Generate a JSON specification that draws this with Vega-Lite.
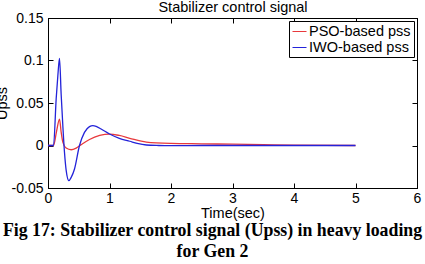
{
  "$schema": "https://vega.github.io/schema/vega-lite/v6.json",
  "width": 369,
  "height": 170,
  "autosize": "none",
  "padding": {"left": 48, "top": 18, "right": 8, "bottom": 76},
  "background": "white",
  "config": {
    "view": {"stroke": "black", "strokeWidth": 1},
    "font": "Liberation Sans",
    "axis": {
      "grid": false,
      "domainColor": "black",
      "tickColor": "black",
      "labelColor": "black",
      "labelFont": "Liberation Sans",
      "labelFontSize": 14,
      "titleFont": "Liberation Sans",
      "titleFontSize": 14.5,
      "titleFontWeight": "normal",
      "titleColor": "black",
      "tickSize": -5,
      "domainWidth": 1
    }
  },
  "title": {
    "text": ["Fig 17: Stabilizer control signal (Upss) in heavy loading", "for Gen 2"],
    "orient": "bottom",
    "anchor": "middle",
    "frame": "bounds",
    "font": "Liberation Serif",
    "fontSize": 17.8,
    "fontWeight": "bold",
    "color": "black",
    "lineHeight": 21,
    "offset": 2,
    "dx": 5
  },
  "data": {
    "values": [
      {"t": 0, "u": 0, "series": "PSO-based pss"},
      {"t": 0.09, "u": 0, "series": "PSO-based pss"},
      {"t": 0.14, "u": 0.017, "series": "PSO-based pss"},
      {"t": 0.187, "u": 0.031, "series": "PSO-based pss"},
      {"t": 0.214, "u": 0.0157, "series": "PSO-based pss"},
      {"t": 0.241, "u": 0.004, "series": "PSO-based pss"},
      {"t": 0.295, "u": -0.003, "series": "PSO-based pss"},
      {"t": 0.377, "u": -0.005, "series": "PSO-based pss"},
      {"t": 0.458, "u": -0.003, "series": "PSO-based pss"},
      {"t": 0.539, "u": 0.001, "series": "PSO-based pss"},
      {"t": 0.675, "u": 0.0071, "series": "PSO-based pss"},
      {"t": 0.84, "u": 0.0118, "series": "PSO-based pss"},
      {"t": 1.0, "u": 0.0135, "series": "PSO-based pss"},
      {"t": 1.16, "u": 0.0118, "series": "PSO-based pss"},
      {"t": 1.33, "u": 0.0085, "series": "PSO-based pss"},
      {"t": 1.6, "u": 0.004, "series": "PSO-based pss"},
      {"t": 2.0, "u": 0.0025, "series": "PSO-based pss"},
      {"t": 2.5, "u": 0.002, "series": "PSO-based pss"},
      {"t": 3.0, "u": 0.0015, "series": "PSO-based pss"},
      {"t": 3.5, "u": 0.001, "series": "PSO-based pss"},
      {"t": 4.0, "u": 0.0005, "series": "PSO-based pss"},
      {"t": 5.0, "u": 0, "series": "PSO-based pss"},
      {"t": 0, "u": 0, "series": "IWO-based pss"},
      {"t": 0.09, "u": 0, "series": "IWO-based pss"},
      {"t": 0.133, "u": 0.055, "series": "IWO-based pss"},
      {"t": 0.16, "u": 0.082, "series": "IWO-based pss"},
      {"t": 0.187, "u": 0.1025, "series": "IWO-based pss"},
      {"t": 0.214, "u": 0.06, "series": "IWO-based pss"},
      {"t": 0.241, "u": 0.0235, "series": "IWO-based pss"},
      {"t": 0.268, "u": -0.008, "series": "IWO-based pss"},
      {"t": 0.295, "u": -0.029, "series": "IWO-based pss"},
      {"t": 0.339, "u": -0.0414, "series": "IWO-based pss"},
      {"t": 0.377, "u": -0.0375, "series": "IWO-based pss"},
      {"t": 0.431, "u": -0.0276, "series": "IWO-based pss"},
      {"t": 0.512, "u": 0, "series": "IWO-based pss"},
      {"t": 0.593, "u": 0.0155, "series": "IWO-based pss"},
      {"t": 0.675, "u": 0.0222, "series": "IWO-based pss"},
      {"t": 0.729, "u": 0.0233, "series": "IWO-based pss"},
      {"t": 0.783, "u": 0.0225, "series": "IWO-based pss"},
      {"t": 0.864, "u": 0.0194, "series": "IWO-based pss"},
      {"t": 1.0, "u": 0.0135, "series": "IWO-based pss"},
      {"t": 1.16, "u": 0.0085, "series": "IWO-based pss"},
      {"t": 1.33, "u": 0.005, "series": "IWO-based pss"},
      {"t": 1.45, "u": 0.0025, "series": "IWO-based pss"},
      {"t": 1.6, "u": 0.0006, "series": "IWO-based pss"},
      {"t": 1.8, "u": 0, "series": "IWO-based pss"},
      {"t": 2.0, "u": -0.0002, "series": "IWO-based pss"},
      {"t": 2.5, "u": 0, "series": "IWO-based pss"},
      {"t": 3.0, "u": 0, "series": "IWO-based pss"},
      {"t": 4.0, "u": 0, "series": "IWO-based pss"},
      {"t": 5.0, "u": 0, "series": "IWO-based pss"}
    ]
  },
  "resolve": {"axis": {"x": "independent", "y": "independent"}},
  "layer": [
    {
      "mark": {"type": "line", "interpolate": "monotone", "strokeWidth": 1.3},
      "encoding": {
        "x": {
          "field": "t", "type": "quantitative",
          "scale": {"domain": [0, 6], "nice": false},
          "axis": {"orient": "bottom", "values": [0, 1, 2, 3, 4, 5, 6], "title": "Time(sec)", "labelPadding": 8, "titlePadding": 1, "labelFlush": false}
        },
        "y": {
          "field": "u", "type": "quantitative",
          "scale": {"domain": [-0.05, 0.15], "nice": false, "zero": false},
          "axis": {"orient": "left", "values": [-0.05, 0, 0.05, 0.1, 0.15], "labelExpr": "'' + datum.value", "title": "Upss", "labelPadding": 10, "titlePadding": 2}
        },
        "color": {
          "field": "series", "type": "nominal",
          "scale": {"domain": ["PSO-based pss", "IWO-based pss"], "range": ["#e8393c", "#2323d9"]},
          "legend": {
            "title": null,
            "orient": "top-right",
            "offset": 3,
            "strokeColor": "black",
            "fillColor": "white",
            "padding": 3,
            "symbolType": "stroke",
            "symbolSize": 196,
            "symbolStrokeWidth": 1,
            "labelFontSize": 14.5,
            "labelFont": "Liberation Sans",
            "labelColor": "black",
            "labelOffset": 2,
            "rowPadding": 1,
            "cornerRadius": 0
          }
        },
        "order": {"field": "t", "type": "quantitative"}
      }
    },
    {
      "mark": {"type": "line", "strokeOpacity": 0},
      "encoding": {
        "x": {
          "field": "t", "type": "quantitative",
          "axis": {"orient": "top", "values": [0, 1, 2, 3, 4, 5, 6], "labels": false, "title": "Stabilizer control signal", "titlePadding": 3}
        },
        "y": {
          "field": "u", "type": "quantitative",
          "axis": {"orient": "right", "values": [-0.05, 0, 0.05, 0.1, 0.15], "labels": false, "title": null}
        },
        "detail": {"field": "series", "type": "nominal"},
        "order": {"field": "t", "type": "quantitative"}
      }
    }
  ]
}
